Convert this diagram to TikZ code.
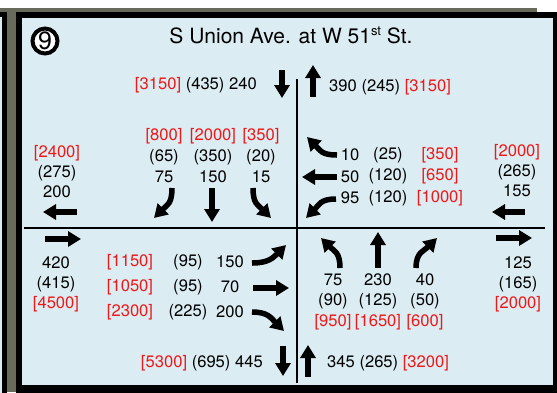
\documentclass[tikz,border=0pt]{standalone}
\usepackage{fontspec}
\setmainfont{TeX Gyre Heros}
\usetikzlibrary{arrows.meta}
\definecolor{panel}{RGB}{219,236,242}
\definecolor{volred}{RGB}{238,24,24}
\definecolor{photo}{RGB}{104,106,92}
\newcommand{\rd}[1]{\textcolor{volred}{[#1]}}

\begin{document}
\begin{tikzpicture}[
	x=1pt, y=-1pt,
	vol/.style = {font=\fontsize{16.6}{#1}\selectfont, align=center, inner sep=0pt},
	vol/.default = 20,
	mv/.style = {line width=5.5pt, -{Triangle[length=13pt,width=15pt]}},
	badge/.style = {circle, draw, line width=4pt, fill=white, minimum size=25pt,
	                inner sep=0pt, font=\fontsize{25}{25}\selectfont}
     ]
		\useasboundingbox (0,0) rectangle (557,392);
%
		\fill[white] (0,0) rectangle (557,392);
		\fill[photo] (0,8) rectangle (537,392);
		\fill[black] (-1,12) rectangle (7,393);
		\fill[panel] (-1,17) rectangle (2,393);
		\fill[black] (16,12) rectangle (558,393);
		\fill[panel] (22,18) rectangle (553,385);
%
		\draw[line width=2.5pt] (297,79) -- (297,383);
		\draw[line width=1.6pt] (24,228) -- (545,228);
%
		\node[badge] (num) at (45,41) {9};
		\node[anchor=base, font=\fontsize{21}{21}\selectfont] (title) at (291,43)
			{S Union Ave. at W 51\raisebox{8pt}{\fontsize{13}{13}\selectfont st} St.};
%
		\node[vol, anchor=east] (nIn)  at (257,85) {\rd{3150} (435) 240};
		\node[vol, anchor=west] (nOut) at (329,87) {390 (245) \rd{3150}};
		\node[vol, anchor=east] (sOut) at (263,363) {\rd{5300} (695) 445};
		\node[vol, anchor=west] (sIn)  at (327,363) {345 (265) \rd{3200}};
%
		\node[vol] (wOut) at (57,172)  {\rd{2400}\\(275)\\200};
		\node[vol] (wIn)  at (56,284)  {420\\(415)\\\rd{4500}};
		\node[vol] (eIn)  at (517,171) {\rd{2000}\\(265)\\155};
		\node[vol] (eOut) at (518,284) {125\\(165)\\\rd{2000}};
%
		\node[vol=21] (sbL) at (164,156) {\rd{800}\\(65)\\75};
		\node[vol=21] (sbT) at (213,156) {\rd{2000}\\(350)\\150};
		\node[vol=21] (sbR) at (261,156) {\rd{350}\\(20)\\15};
%
		\node[vol=21.5] (wbA) at (350,176.5) {10\\50\\95};
		\node[vol=21.5] (wbP) at (388,176.5) {(25)\\(120)\\(120)};
		\node[vol=21.5] (wbD) at (440,176.5) {\rd{350}\\\rd{650}\\\rd{1000}};
%
		\node[vol=25] (ebD) at (130,287) {\rd{1150}\\\rd{1050}\\\rd{2300}};
		\node[vol=25] (ebP) at (188,287) {(95)\\(95)\\(225)};
		\node[vol=25] (ebA) at (230,287) {150\\70\\200};
%
		\node[vol=20.5] (nbL) at (333,301.5) {75\\(90)\\\rd{950}};
		\node[vol=20.5] (nbT) at (378,301.5) {230\\(125)\\\rd{1650}};
		\node[vol=20.5] (nbR) at (425,301.5) {40\\(50)\\\rd{600}};
%
		\draw[mv] (282,70) -- (282,98);
		\draw[mv] (313,97) -- (313,65);
		\draw[mv] (283,346) -- (283,376);
		\draw[mv] (308,377) -- (308,345);
		\draw[mv] (77,212) -- (43,212);
		\draw[mv] (45,239) -- (81,239);
		\draw[mv] (525,212) -- (492,212);
		\draw[mv] (496,238) -- (532,238);
%
		\draw[mv] (172,188) .. controls +(0,16) and +(13,-13) .. (154,218);
		\draw[mv] (212,188) -- (212,222);
		\draw[mv] (253,188) .. controls +(0,16) and +(-13,-13) .. (271,218);
%
		\draw[mv] (337,155) .. controls +(-16,0) and +(13,13) .. (307,137);
		\draw[mv] (337,177) -- (302,177);
		\draw[mv] (336,199) .. controls +(-16,0) and +(13,-13) .. (306,218);
%
		\draw[mv] (252,263) .. controls +(16,0) and +(-13,13) .. (286,245);
		\draw[mv] (253,288) -- (289,288);
		\draw[mv] (252,312) .. controls +(16,0) and +(-13,-13) .. (284,331);
%
		\draw[mv] (340,268) .. controls +(0,-16) and +(13,13) .. (321,238);
		\draw[mv] (378,268) -- (378,232);
		\draw[mv] (416,268) .. controls +(0,-16) and +(-13,13) .. (437,238);
\end{tikzpicture}
\end{document}
